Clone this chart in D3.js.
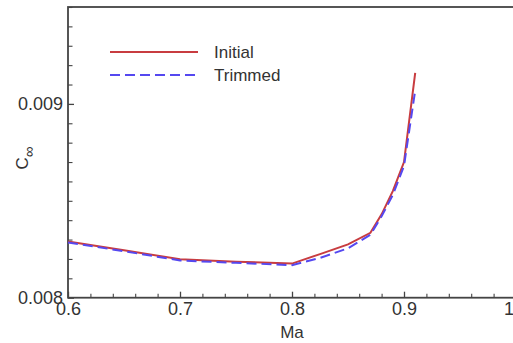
<!DOCTYPE html>
<html>
<head>
<meta charset="utf-8">
<script src="https://cdn.jsdelivr.net/npm/d3@7"></script>
<style>
  body { margin: 0; background: #fff; }
  svg { display: block; font-family: "Liberation Sans", Arial, sans-serif; }
</style>
</head>
<body>
<svg id="chart" width="513" height="343"></svg>
<script>
// Mach numbers and drag coefficient
const machInitial = [0.60, 0.65, 0.70, 0.75, 0.80, 0.825, 0.85, 0.87, 0.88, 0.89, 0.90, 0.91];
const cdInitial = [0.00829, 0.008245, 0.008198, 0.008186, 0.008176, 0.008225, 0.008275, 0.008335, 0.00843, 0.00855, 0.00870, 0.00916];
const machTrimmed = [0.60, 0.65, 0.70, 0.75, 0.80, 0.825, 0.85, 0.87, 0.88, 0.89, 0.90, 0.91];
const cdTrimmed = [0.008285, 0.00824, 0.008192, 0.00818, 0.008168, 0.008205, 0.008255, 0.008325, 0.00842, 0.00853, 0.00868, 0.00907];

const xMajor = [0.6, 0.7, 0.8, 0.9, 1.0];
const yMajor = [0.008, 0.009];
const seriesNames = ["Initial", "Trimmed"];

const svg = d3.select("#chart");
const margin = { left: 68, top: 7 };
const plotW = 448, plotH = 290.7;

const x = d3.scaleLinear().domain([0.6, 1.0]).range([margin.left, margin.left + plotW]);
const y = d3.scaleLinear().domain([0.008, 0.0095]).range([margin.top + plotH, margin.top]);

const axisColor = "#444";
const textColor = "#333";

// minor ticks every 0.02 on x, 0.0001 on y
const xMinor = d3.range(0.6, 1.0001, 0.02).filter(v => !xMajor.some(m => Math.abs(m - v) < 1e-6));
const yMinor = d3.range(0.008, 0.00950001, 0.0001).filter(v => !yMajor.some(m => Math.abs(m - v) < 1e-9));

// frame
svg.append("rect")
  .attr("x", margin.left).attr("y", margin.top)
  .attr("width", plotW).attr("height", plotH)
  .attr("fill", "none").attr("stroke", axisColor).attr("stroke-width", 1.8);

// x axis
const gx = svg.append("g")
  .attr("transform", `translate(0,${margin.top + plotH})`)
  .call(d3.axisBottom(x).tickValues(xMajor).tickFormat(d3.format(".1f")).tickSize(-6).tickPadding(5));
gx.select(".domain").remove();
gx.selectAll(".tick line").attr("stroke", axisColor).attr("stroke-width", 1.3);
gx.selectAll("text").attr("font-size", 18).attr("fill", textColor);

svg.append("g")
  .attr("transform", `translate(0,${margin.top + plotH})`)
  .call(d3.axisBottom(x).tickValues(xMinor).tickFormat("").tickSize(-4))
  .call(g => g.select(".domain").remove())
  .call(g => g.selectAll(".tick line").attr("stroke", axisColor).attr("stroke-width", 1.1));

// y axis
const gy = svg.append("g")
  .attr("transform", `translate(${margin.left},0)`)
  .call(d3.axisLeft(y).tickValues(yMajor).tickFormat(d3.format(".3f")).tickSize(-6).tickPadding(5));
gy.select(".domain").remove();
gy.selectAll(".tick line").attr("stroke", axisColor).attr("stroke-width", 1.3);
gy.selectAll("text").attr("font-size", 18).attr("fill", textColor);

svg.append("g")
  .attr("transform", `translate(${margin.left},0)`)
  .call(d3.axisLeft(y).tickValues(yMinor).tickFormat("").tickSize(-4.5))
  .call(g => g.select(".domain").remove())
  .call(g => g.selectAll(".tick line").attr("stroke", axisColor).attr("stroke-width", 1.1));

// axis titles
svg.append("text")
  .attr("x", x(0.8)).attr("y", 338)
  .attr("text-anchor", "middle")
  .attr("font-size", 17).attr("fill", textColor)
  .text("Ma");

const yTitle = svg.append("text")
  .attr("transform", "translate(28,158) rotate(-90)")
  .attr("text-anchor", "middle")
  .attr("font-size", 17).attr("fill", textColor);
yTitle.append("tspan").text("C");
yTitle.append("tspan").attr("font-size", 15).attr("dy", 6).text("\u221E");

// curves
const line = d3.line().x(d => x(d[0])).y(d => y(d[1]));
const initialPts = machInitial.map((m, i) => [m, cdInitial[i]]);
const trimmedPts = machTrimmed.map((m, i) => [m, cdTrimmed[i]]);

const styles = [
  { color: "#c83c40", dash: null },
  { color: "#5548f0", dash: "10,5" }
];

svg.append("path").datum(initialPts)
  .attr("fill", "none").attr("stroke", styles[0].color).attr("stroke-width", 2)
  .attr("d", line);
svg.append("path").datum(trimmedPts)
  .attr("fill", "none").attr("stroke", styles[1].color).attr("stroke-width", 2)
  .attr("stroke-dasharray", styles[1].dash)
  .attr("d", line);

// legend
const legend = svg.append("g").attr("transform", "translate(110,52)");
seriesNames.forEach((name, i) => {
  const row = legend.append("g").attr("transform", `translate(0,${i * 23})`);
  row.append("line")
    .attr("x1", 0).attr("x2", 88).attr("y1", 0).attr("y2", 0)
    .attr("stroke", styles[i].color).attr("stroke-width", 2.2)
    .attr("stroke-dasharray", styles[i].dash);
  row.append("text")
    .attr("x", 104).attr("y", 6)
    .attr("font-size", 17).attr("fill", textColor)
    .text(name);
});
</script>
</body>
</html>
